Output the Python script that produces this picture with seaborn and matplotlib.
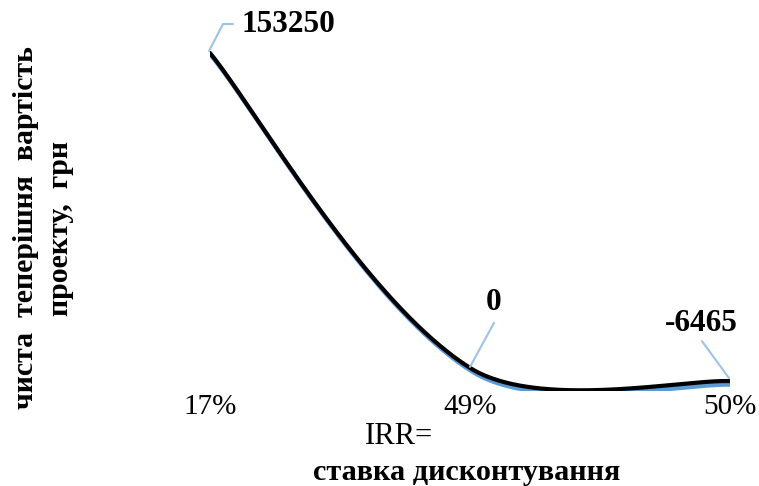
import numpy as np
import pandas as pd
import matplotlib
matplotlib.use("Agg")
import matplotlib.pyplot as plt
import matplotlib.transforms as mtransforms
from matplotlib.lines import Line2D
import seaborn as sns

# Net present value of the project at each discount rate
rates = ["17%", "49%", "50%"]
npv = [153250, 0, -6465]
value_labels = ["153250", "0", "-6465"]

sns.set_theme(style="white")
plt.rcParams["font.family"] = ["Liberation Serif", "DejaVu Serif"]
plt.rcParams["text.color"] = "black"
plt.rcParams["xtick.color"] = "black"

fig = plt.figure(figsize=(7.59, 4.86), dpi=100)
ax = fig.add_axes([0.27668, 0.19547, 0.68511, 0.72016])
ax.set_xlim(0, 2)
ax.set_ylim(-11260, 159100)

x_idx = np.arange(len(rates), dtype=float)
y_val = np.asarray(npv, dtype=float)


def smooth_curve(ax, xs, ys, n=120):
    """Chord-weighted Bezier smoothing computed in screen space."""
    P = ax.transData.transform(np.column_stack([xs, ys]))
    m = len(P)
    d = np.linalg.norm(np.diff(P, axis=0), axis=1)
    out = []
    for i in range(m - 1):
        if i == 0:
            c1 = P[0] + (P[1] - P[0]) / 6.0
        else:
            f = d[i] / (d[i - 1] + d[i]) / 3.0
            c1 = P[i] + (P[i + 1] - P[i - 1]) * f
        if i + 1 == m - 1:
            c2 = P[i + 1] - (P[i + 1] - P[i]) / 6.0
        else:
            f = d[i] / (d[i] + d[i + 1]) / 3.0
            c2 = P[i + 1] - (P[i + 2] - P[i]) * f
        t = np.linspace(0, 1, n)[:, None]
        seg = ((1 - t) ** 3) * P[i] + 3 * ((1 - t) ** 2) * t * c1 \
            + 3 * (1 - t) * t ** 2 * c2 + t ** 3 * P[i + 1]
        out.append(seg if i == 0 else seg[1:])
    pts = ax.transData.inverted().transform(np.vstack(out))
    return pts[:, 0], pts[:, 1]


sx, sy = smooth_curve(ax, x_idx, y_val)
curve = pd.DataFrame({"x": sx, "y": sy})

shadow = mtransforms.offset_copy(ax.transData, fig=fig, x=2, y=-3.5, units="dots")
sns.lineplot(data=curve, x="x", y="y", sort=False, color="#5B9BD5",
             linewidth=3.2, ax=ax, transform=shadow)
sns.lineplot(data=curve, x="x", y="y", sort=False, color="black",
             linewidth=3.0, ax=ax, solid_capstyle="round")

# Data labels with leader lines (offsets in pixels from each point)
leader = "#9DC3E6"
label_font = dict(fontsize=22.5, fontweight="bold", color="black")


def leader_line(i, offsets):
    px, py = ax.transData.transform((x_idx[i], y_val[i]))
    xs = [px + dx for dx, dy in offsets]
    ys = [py + dy for dx, dy in offsets]
    fig.add_artist(Line2D(xs, ys, transform=mtransforms.IdentityTransform(),
                          color=leader, linewidth=1.5, zorder=1))


leader_line(0, [(-1, 2), (13, 29), (23, 29)])
leader_line(1, [(0, 1), (24, 45)])
leader_line(2, [(-1, 3), (-28, 40)])

pix = "offset pixels"
ax.annotate(value_labels[0], xy=(x_idx[0], y_val[0]), xytext=(31, 29),
            textcoords=pix, ha="left", va="center", **label_font)
ax.annotate(value_labels[1], xy=(x_idx[1], y_val[1]), xytext=(24, 65),
            textcoords=pix, ha="center", va="center", **label_font)
ax.annotate(value_labels[2], xy=(x_idx[2], y_val[2]), xytext=(-29, 58),
            textcoords=pix, ha="center", va="center", **label_font)

# Axes styling
ax.set_xticks(x_idx)
ax.set_xticklabels(rates, fontsize=21)
ax.tick_params(axis="x", length=0, pad=2)
ax.set_yticks([])
ax.set_xlabel("")
ax.set_ylabel("")
for s in ax.spines.values():
    s.set_visible(False)

# Axis titles
fig.text(399 / 759, 1 - 436 / 486, "IRR=", fontsize=22, ha="center", va="center")
fig.text(467 / 759, 1 - 472 / 486, "ставка дисконтування", fontsize=21.8,
         fontweight="bold", ha="center", va="center")
fig.text(43 / 759, 1 - 228 / 486, "чиста  теперішня  вартість\nпроекту,  грн",
         fontsize=21.5, fontweight="bold", rotation=90, ha="center", va="center",
         multialignment="center", linespacing=1.4)

fig.savefig("out.png", dpi=100)
